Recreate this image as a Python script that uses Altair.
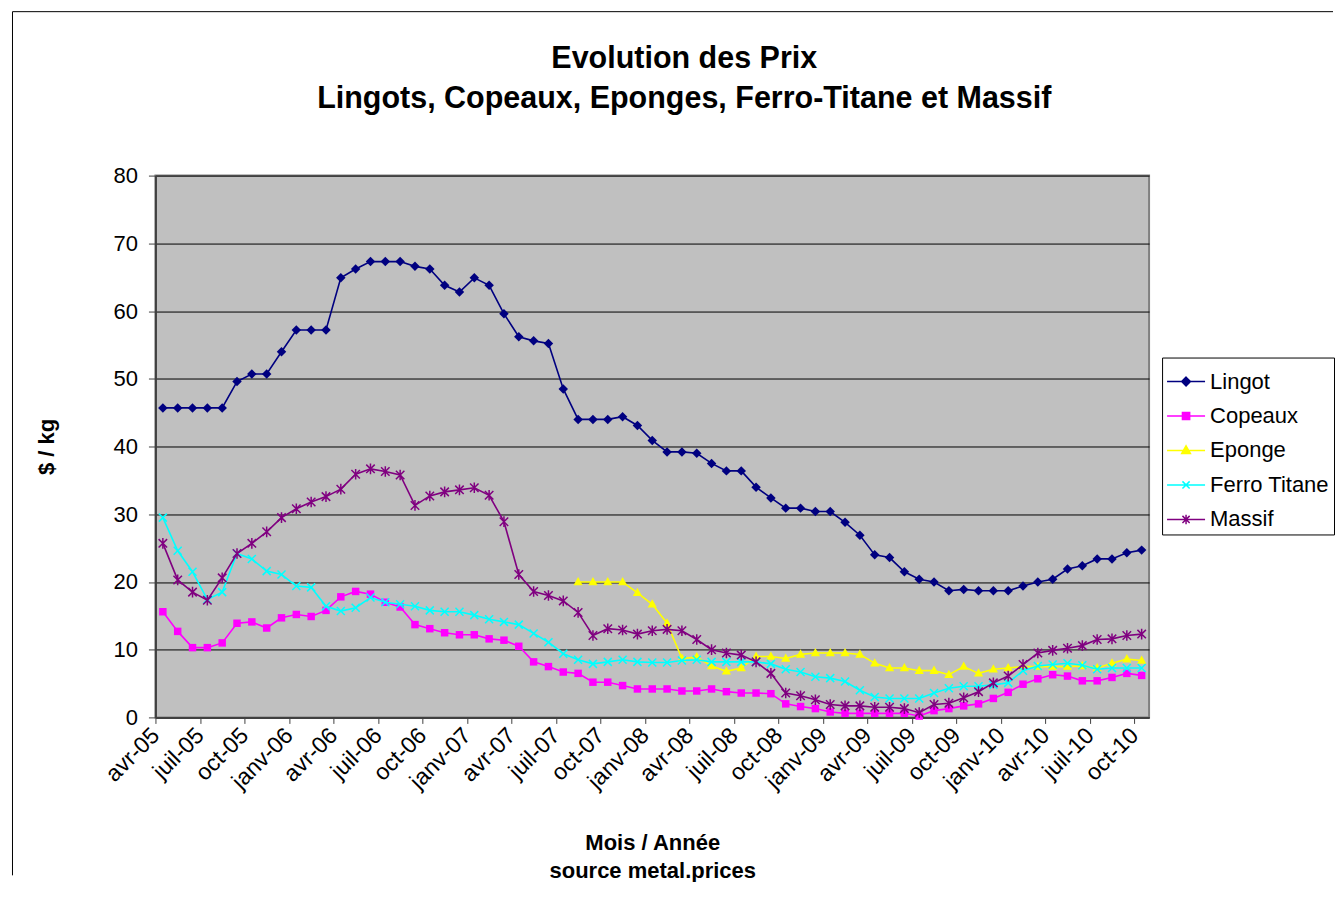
import altair as alt
import pandas as pd

# ---- categories (months avr-05 .. oct-10) ----
month_names = ["janv", "févr", "mars", "avr", "mai", "juin",
               "juil", "août", "sept", "oct", "nov", "déc"]
months = []
for k in range(67):
    m = (3 + k) % 12
    yr = 5 + (3 + k) // 12
    months.append(f"{month_names[m]}-{yr:02d}")

series_names = ["Lingot", "Copeaux", "Eponge", "Ferro Titane", "Massif"]
series_colors = ["#000080", "#FF00FF", "#FFFF00", "#00FFFF", "#800080"]

lingot = [45.7, 45.7, 45.7, 45.7, 45.7, 49.6, 50.7, 50.7, 54.0, 57.2,
          57.2, 57.2, 64.9, 66.2, 67.3, 67.3, 67.3, 66.6, 66.2, 63.8,
          62.8, 64.9, 63.8, 59.6, 56.2, 55.6, 55.2, 48.5, 44.0, 44.0,
          44.0, 44.4, 43.1, 40.9, 39.2, 39.2, 39.0, 37.5, 36.4, 36.4,
          34.0, 32.4, 30.9, 30.9, 30.4, 30.4, 28.8, 26.9, 24.0, 23.6,
          21.5, 20.4, 20.0, 18.7, 18.9, 18.7, 18.7, 18.7, 19.4, 20.0,
          20.4, 21.9, 22.4, 23.4, 23.4, 24.3, 24.7]
copeaux = [15.6, 12.7, 10.3, 10.3, 11.0, 13.9, 14.1, 13.2, 14.7, 15.2,
           14.9, 15.8, 17.8, 18.6, 18.2, 17.0, 16.3, 13.7, 13.1, 12.5,
           12.2, 12.2, 11.6, 11.4, 10.5, 8.2, 7.5, 6.7, 6.5, 5.2,
           5.2, 4.7, 4.2, 4.2, 4.2, 3.9, 3.9, 4.2, 3.8, 3.6,
           3.6, 3.5, 2.0, 1.6, 1.3, 0.8, 0.6, 0.6, 0.6, 0.6,
           0.6, 0.2, 1.0, 1.3, 1.7, 2.0, 2.8, 3.7, 4.9, 5.7,
           6.3, 6.1, 5.4, 5.4, 5.9, 6.5, 6.2]
eponge = [None] * 28 + [
           20.0, 20.0, 20.0, 20.0, 18.4, 16.7, 13.9, 8.7, 8.9, 7.6,
           6.8, 7.3, 9.0, 9.0, 8.7, 9.3, 9.5, 9.5, 9.5, 9.3,
           8.0, 7.3, 7.3, 6.9, 6.9, 6.3, 7.5, 6.5, 7.1, 7.3,
           7.5, 7.5, 7.5, 7.5, 7.6, 7.3, 8.0, 8.6, 8.4]
ferro = [29.5, 24.6, 21.5, 17.4, 18.5, 24.2, 23.4, 21.6, 21.1, 19.4,
         19.2, 16.4, 15.7, 16.2, 17.7, 17.0, 16.7, 16.4, 15.8, 15.6,
         15.6, 15.1, 14.5, 14.1, 13.7, 12.4, 11.1, 9.4, 8.5, 7.9,
         8.2, 8.5, 8.2, 8.1, 8.1, 8.4, 8.5, 8.2, 8.2, 8.2,
         8.2, 7.9, 7.1, 6.7, 6.0, 5.8, 5.3, 4.0, 3.0, 2.8,
         2.8, 2.8, 3.6, 4.3, 4.6, 4.6, 4.8, 5.1, 6.9, 7.6,
         7.8, 8.0, 7.7, 7.1, 7.3, 7.3, 7.3]
massif = [25.7, 20.3, 18.5, 17.3, 20.6, 24.2, 25.7, 27.4, 29.5, 30.8,
          31.8, 32.6, 33.7, 35.9, 36.7, 36.3, 35.8, 31.3, 32.7, 33.3,
          33.6, 33.9, 32.8, 28.9, 21.1, 18.6, 18.0, 17.2, 15.5, 12.1,
          13.1, 12.9, 12.3, 12.8, 13.0, 12.8, 11.5, 10.0, 9.5, 9.2,
          8.2, 6.5, 3.6, 3.2, 2.6, 1.9, 1.7, 1.7, 1.5, 1.5,
          1.3, 0.7, 1.9, 2.1, 2.9, 3.8, 5.1, 6.1, 7.8, 9.5,
          9.9, 10.2, 10.6, 11.5, 11.6, 12.1, 12.3]

y_ticks = [0, 10, 20, 30, 40, 50, 60, 70, 80]

all_values = [lingot, copeaux, eponge, ferro, massif]

rows = []
for name, vals in zip(series_names, all_values):
    for i, v in enumerate(vals):
        if v is not None:
            rows.append({"i": i, "mois": months[i], "serie": name, "v": v})
df = pd.DataFrame(rows)

# ---- marker shapes ----
point_shapes = {
    "Lingot": ("M0,-1L1,0L0,1L-1,0Z", 90, True),
    "Copeaux": ("M-1,-1L1,-1L1,1L-1,1Z", 56, True),
    "Eponge": ("M0,-1.1L1,0.7L-1,0.7Z", 85, True),
    "Ferro Titane": ("M-1,-1L1,1M-1,1L1,-1", 64, False),
    "Massif": ("M-1,-1L1,1M-1,1L1,-1M0,-1.25L0,1.25", 72, False),
}
legend_shapes = [
    "M-1,0L1,0M0,-0.23L0.23,0L0,0.23L-0.23,0Z",
    "M-1,0L1,0M-0.19,-0.19L0.19,-0.19L0.19,0.19L-0.19,0.19Z",
    "M-1,0L1,0M0,-0.25L0.23,0.16L-0.23,0.16Z",
    "M-1,0L1,0M-0.19,-0.19L0.19,0.19M-0.19,0.19L0.19,-0.19",
    "M-1,0L1,0M-0.19,-0.19L0.19,0.19M-0.19,0.19L0.19,-0.19M0,-0.25L0,0.25",
]

# ---- axes ----
x_tick_vals = [-0.5 + 3 * k for k in range(23)]
label_arr = "[" + ",".join("'" + m + "'" for m in months) + "]"
x_axis = alt.Axis(
    values=x_tick_vals,
    labelExpr=label_arr + "[round(datum.value + 0.5)]",
    labelAngle=315, labelAlign="right", labelBaseline="middle",
    labelFontSize=23, labelPadding=8, labelOffset=0, labelOverlap=False,
    labelColor="black",
    tickSize=6, tickColor="#404040", domainColor="#404040", domainWidth=2,
    grid=False,
    title=["Mois / Année", "source metal.prices"],
    titleFontSize=22, titleFontWeight="bold", titleLineHeight=28,
    titlePadding=39, titleColor="black",
)
y_axis = alt.Axis(
    values=y_ticks,
    labelFontSize=22, labelPadding=11, labelColor="black",
    tickSize=7, tickColor="#404040", domainColor="#404040", domainWidth=2,
    grid=True, gridColor="black", gridWidth=1, gridOpacity=1,
    title="$ / kg", titleFontSize=22, titleFontWeight="bold",
    titlePadding=55, titleColor="black",
)
x_enc = alt.X("i:Q", scale=alt.Scale(domain=[-0.5, 66.5], nice=False, zero=False), axis=x_axis)
y_enc = alt.Y("v:Q", scale=alt.Scale(domain=[0, 80], nice=False), axis=y_axis)

layers = []
for name, color in zip(series_names, series_colors):
    sub = df[df["serie"] == name]
    path, size, filled = point_shapes[name]
    line = alt.Chart(sub).mark_line(color=color, strokeWidth=1.6).encode(x=x_enc, y=y_enc)
    pts = alt.Chart(sub).mark_point(
        shape=path, size=size, filled=filled, color=color, opacity=1, strokeWidth=1.5
    ).encode(x=x_enc, y=y_enc)
    layers += [line, pts]

leg = alt.Legend(
    title=None, orient="none", legendX=1007, legendY=182,
    fillColor="white", strokeColor="black", padding=4, cornerRadius=0,
    symbolSize=1444, symbolStrokeWidth=1.5, symbolOpacity=1, symbolOffset=0,
    labelFontSize=22, labelOffset=4, labelColor="black", rowPadding=3.5,
    labelLimit=300,
)
legend_layer = alt.Chart(df).mark_point(filled=True, opacity=0, size=1444).encode(
    x=x_enc, y=y_enc,
    fill=alt.Fill("serie:N", scale=alt.Scale(domain=series_names, range=series_colors), legend=leg),
    stroke=alt.Stroke("serie:N", scale=alt.Scale(domain=series_names, range=series_colors), legend=leg),
    shape=alt.Shape("serie:N", scale=alt.Scale(domain=series_names, range=legend_shapes), legend=leg),
)

# outer chart-area frame (left and top edges)
frame_df = pd.DataFrame({"a": [0]})
frame_left = alt.Chart(frame_df).mark_rule(color="black", strokeWidth=1).encode(
    x=alt.value(-143), y=alt.value(-164), y2=alt.value(700))
frame_top = alt.Chart(frame_df).mark_rule(color="black", strokeWidth=1).encode(
    x=alt.value(-143), x2=alt.value(1178), y=alt.value(-164))

chart = alt.layer(frame_left, frame_top, *layers, legend_layer).properties(
    width=994, height=542,
    padding={"left": 3.5, "top": 2.5, "right": 0, "bottom": 0},
    title=alt.TitleParams(
        text=["Evolution des Prix", "Lingots, Copeaux, Eponges, Ferro-Titane et Massif"],
        fontSize=30.5, fontWeight="bold", anchor="middle", frame="group",
        dx=32, offset=-103, lineHeight=40, color="black",
    ),
).configure(font="Liberation Sans").configure_view(
    fill="#C0C0C0", stroke="#808080", strokeWidth=2
)

chart.save("out.html", embed_options={"renderer": "svg", "actions": False})
